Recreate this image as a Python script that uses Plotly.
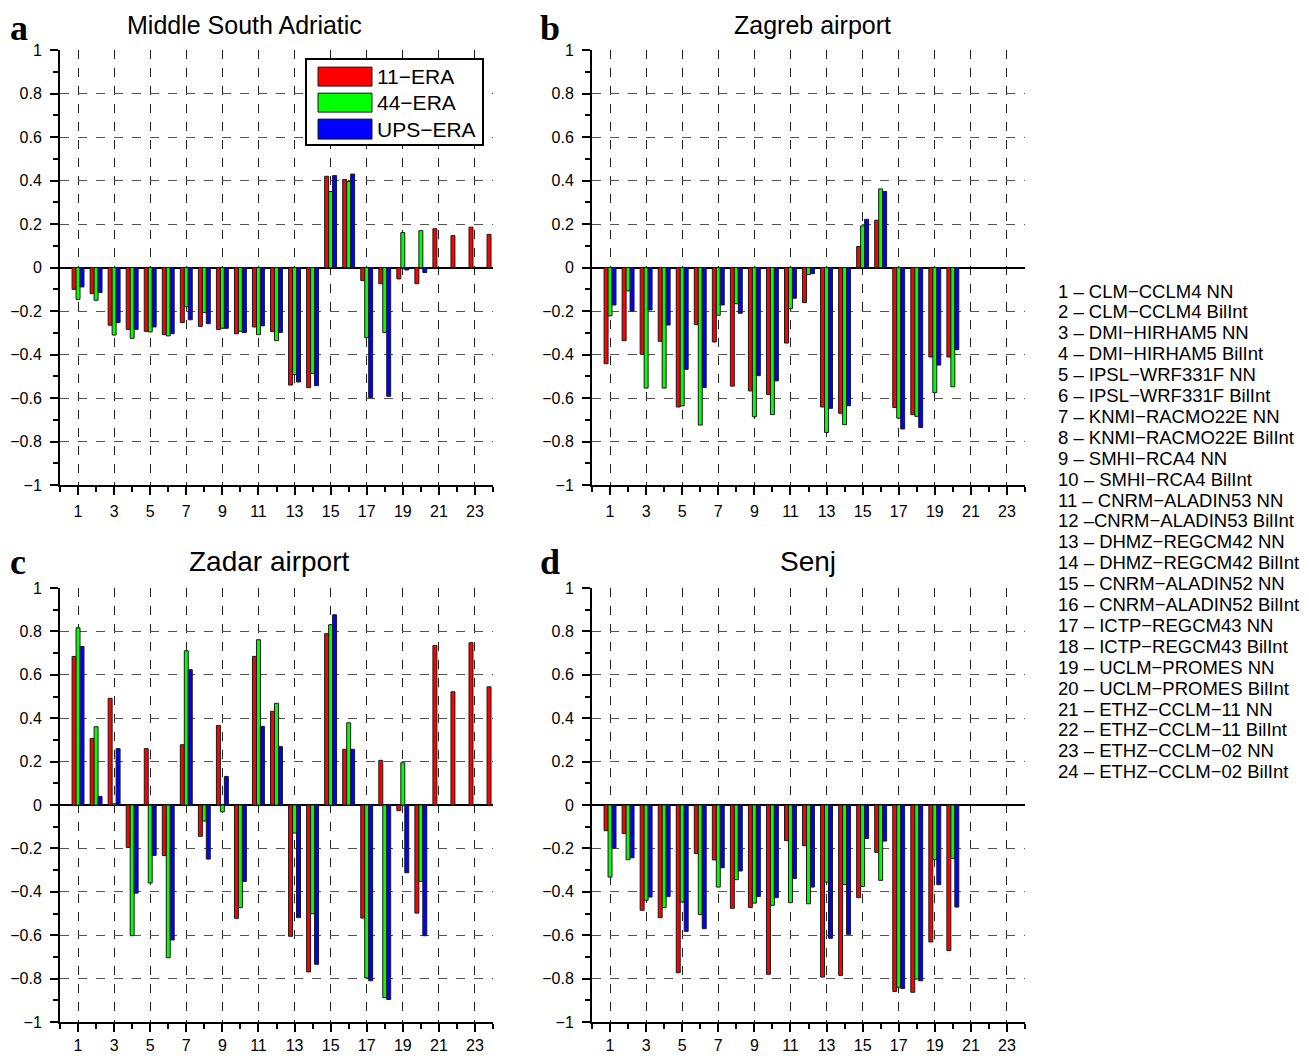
import plotly.graph_objects as go

W, H = 1309, 1056

models = list(range(1, 25))
model_names = [
    "1 – CLM−CCLM4 NN", "2 – CLM−CCLM4 BilInt", "3 – DMI−HIRHAM5 NN", "4 – DMI−HIRHAM5 BilInt",
    "5 – IPSL−WRF331F NN", "6 – IPSL−WRF331F BilInt", "7 – KNMI−RACMO22E NN", "8 – KNMI−RACMO22E BilInt",
    "9 – SMHI−RCA4 NN", "10 – SMHI−RCA4 BilInt", "11 – CNRM−ALADIN53 NN", "12 –CNRM−ALADIN53 BilInt",
    "13 – DHMZ−REGCM42 NN", "14 – DHMZ−REGCM42 BilInt", "15 – CNRM−ALADIN52 NN", "16 – CNRM−ALADIN52 BilInt",
    "17 – ICTP−REGCM43 NN", "18 – ICTP−REGCM43 BilInt", "19 – UCLM−PROMES NN", "20 – UCLM−PROMES BilInt",
    "21 – ETHZ−CCLM−11 NN", "22 – ETHZ−CCLM−11 BilInt", "23 – ETHZ−CCLM−02 NN", "24 – ETHZ−CCLM−02 BilInt",
]
series_names = ["11−ERA", "44−ERA", "UPS−ERA"]
series_colors = ["#ff0000", "#00ff00", "#0000ff"]
panel_titles = ["Middle South Adriatic", "Zagreb airport", "Zadar airport", "Senj"]
panel_letters = ["a", "b", "c", "d"]
NA = [None] * 4

a_11 = [-0.10, -0.12, -0.265, -0.284, -0.293, -0.308, -0.253, -0.27, -0.285, -0.304, -0.273, -0.294,
        -0.54, -0.552, 0.42, 0.405, -0.06, -0.074, -0.052, -0.074, 0.179, 0.147, 0.186, 0.153]
a_44 = [-0.146, -0.15, -0.31, -0.325, -0.296, -0.314, -0.18, -0.207, -0.279, -0.293, -0.308, -0.336,
        -0.492, -0.486, 0.35, 0.396, -0.322, -0.298, 0.161, 0.17] + NA
a_ups = [-0.089, -0.115, -0.253, -0.284, -0.273, -0.304, -0.24, -0.258, -0.279, -0.299, -0.268, -0.298,
         -0.526, -0.543, 0.423, 0.43, -0.598, -0.592, -0.011, -0.023] + NA

b_11 = [-0.442, -0.336, -0.399, -0.339, -0.641, -0.262, -0.342, -0.545, -0.567, -0.584, -0.347, -0.161,
        -0.641, -0.67, 0.097, 0.218, -0.643, -0.676, -0.411, -0.411] + NA
b_44 = [-0.222, -0.107, -0.554, -0.554, -0.636, -0.724, -0.219, -0.166, -0.686, -0.676, -0.189, -0.032,
        -0.758, -0.722, 0.192, 0.362, -0.692, -0.684, -0.575, -0.548] + NA
b_ups = [-0.172, -0.2, -0.195, -0.264, -0.468, -0.552, -0.172, -0.21, -0.497, -0.521, -0.141, -0.028,
         -0.647, -0.635, 0.222, 0.35, -0.742, -0.735, -0.448, -0.377] + NA

c_11 = [0.685, 0.307, 0.492, -0.195, 0.26, -0.233, 0.278, -0.144, 0.367, -0.522, 0.685, 0.432,
        -0.605, -0.769, 0.79, 0.257, -0.521, 0.206, -0.026, -0.498, 0.736, 0.522, 0.748, 0.545]
c_44 = [0.817, 0.361, 0.006, -0.602, -0.359, -0.704, 0.711, -0.074, -0.031, -0.473, 0.762, 0.469,
        -0.129, -0.501, 0.831, 0.379, -0.797, -0.888, 0.195, -0.352] + NA
c_ups = [0.731, 0.04, 0.26, -0.406, -0.232, -0.622, 0.624, -0.249, 0.132, -0.352, 0.363, 0.269,
         -0.519, -0.734, 0.877, 0.257, -0.81, -0.896, -0.312, -0.602] + NA

d_11 = [-0.118, -0.131, -0.485, -0.519, -0.773, -0.224, -0.253, -0.476, -0.472, -0.78, -0.164, -0.187,
        -0.793, -0.785, -0.427, -0.218, -0.859, -0.863, -0.631, -0.671] + NA
d_44 = [-0.332, -0.252, -0.439, -0.473, -0.447, -0.505, -0.378, -0.344, -0.452, -0.462, -0.45, -0.455,
        -0.355, -0.366, -0.375, -0.347, -0.84, -0.802, -0.252, -0.246] + NA
d_ups = [-0.198, -0.243, -0.424, -0.422, -0.582, -0.57, -0.289, -0.304, -0.422, -0.427, -0.339, -0.378,
         -0.614, -0.596, -0.154, -0.166, -0.845, -0.81, -0.367, -0.47] + NA

panels = [(a_11, a_44, a_ups), (b_11, b_44, b_ups), (c_11, c_44, c_ups), (d_11, d_44, d_ups)]

# target pixel geometry of plot areas (left, right, top, bottom)
boxes = [(60, 493, 50, 485), (592, 1025, 50, 485), (60, 493, 588, 1022), (592, 1025, 588, 1022)]
# title placement: (centre x, baseline y, font size)
title_pos = [(244, 35, 25), (812, 35, 25), (269, 572, 28), (808, 572, 28)]
letter_pos = [(10, 41), (540, 41), (10, 575), (540, 575)]

# the photographed page maps figure pixel d to picture pixel 7.87 + 0.984*d vertically
Y_OFF, Y_SCALE = 7.87, 0.984


def px(x):
    return x / W


def dy(y):
    """figure pixel giving picture pixel y"""
    return (y - Y_OFF) / Y_SCALE


def py(y):
    return 1 - dy(y) / H


fig = go.Figure()
FONT = "Liberation Sans, Arial, sans-serif"

for i, (vals, box) in enumerate(zip(panels, boxes)):
    sfx = "" if i == 0 else str(i + 1)
    for s in range(3):
        fig.add_trace(go.Bar(
            x=models, y=vals[s], name=series_names[s],
            marker=dict(color=series_colors[s], line=dict(color="#1a1a1a", width=1)),
            xaxis="x" + sfx, yaxis="y" + sfx, showlegend=False,
            hovertemplate=series_names[s] + " %{x}: %{y}<extra></extra>",
        ))
    l, r, t, b = box
    bottom_row = i >= 2
    fig.update_layout(**{
        "xaxis" + sfx: dict(
            domain=[px(l), px(r)], range=[0, 24], anchor="y" + sfx,
            tickvals=list(range(1, 24, 2)), ticks="outside", ticklen=8, tickwidth=1.5,
            tickcolor="black", showline=True, linecolor="black", linewidth=2,
            showgrid=True, gridcolor="#222222", griddash="dash", gridwidth=1,
            zeroline=False, ticklabelstandoff=0 if bottom_row else 3,
            tickfont=dict(family=FONT, size=16, color="black"),
            minor=dict(tickvals=list(range(0, 25)), ticks="outside", ticklen=5,
                       tickcolor="black", showgrid=False),
            fixedrange=True,
        ),
        "yaxis" + sfx: dict(
            domain=[py(b), py(t)], range=[-1, 1], anchor="x" + sfx,
            dtick=0.2, tick0=0, ticks="outside", ticklen=8, tickwidth=1.5, tickcolor="black",
            showline=True, linecolor="black", linewidth=2,
            showgrid=True, gridcolor="#555555", griddash="dash", gridwidth=1,
            zeroline=True, zerolinecolor="black", zerolinewidth=1.5,
            ticklabelstandoff=5,
            tickfont=dict(family=FONT, size=16, color="black"),
            minor=dict(dtick=0.1, ticks="outside", ticklen=5, tickcolor="black", showgrid=False),
            fixedrange=True,
        ),
    })

annotations = []
# panel titles and letters (placed by baseline)
for i in range(4):
    cx, base, fs = title_pos[i]
    annotations.append(dict(
        x=px(cx), y=1 - (dy(base) + 0.21 * fs + 1) / H, xref="paper", yref="paper",
        xanchor="center", yanchor="bottom", showarrow=False,
        text=panel_titles[i], font=dict(family=FONT, size=fs, color="black"),
    ))
    lx, lb = letter_pos[i]
    annotations.append(dict(
        x=px(lx - 2), y=1 - (dy(lb) + 0.216 * 36 + 1) / H, xref="paper", yref="paper",
        xanchor="left", yanchor="bottom", showarrow=False,
        text="<b>" + panel_letters[i] + "</b>",
        font=dict(family="Liberation Serif, Times New Roman, serif", size=36, color="black"),
    ))

# model list on the right
for k, name in enumerate(model_names):
    annotations.append(dict(
        x=px(1056), y=py(291 + k * 20.9), xref="paper", yref="paper",
        xanchor="left", yanchor="middle", showarrow=False,
        text=name, font=dict(family=FONT, size=18.5, color="black"),
    ))

# legend inside panel a
shapes = [dict(type="rect", xref="paper", yref="paper", x0=px(306), x1=px(483), y0=py(145), y1=py(59),
               fillcolor="white", line=dict(color="black", width=2), layer="above")]
sw_rows = [(67, 86), (93, 112), (119, 139)]
for s, (y0, y1) in enumerate(sw_rows):
    shapes.append(dict(type="rect", xref="paper", yref="paper", x0=px(318), x1=px(372),
                       y0=py(y1), y1=py(y0), fillcolor=series_colors[s],
                       line=dict(color="#1a1a1a", width=1), layer="above"))
    annotations.append(dict(
        x=px(375), y=py((y0 + y1) / 2), xref="paper", yref="paper",
        xanchor="left", yanchor="middle", showarrow=False,
        text=series_names[s], font=dict(family=FONT, size=21, color="black"),
    ))

fig.update_layout(
    width=W, height=H, margin=dict(l=0, r=0, t=0, b=0),
    paper_bgcolor="white", plot_bgcolor="white",
    barmode="group", bargap=0.34, bargroupgap=0,
    annotations=annotations, shapes=shapes,
    font=dict(family=FONT, color="black"),
)

page_fix = (
    "var st=document.createElement('style');"
    "st.innerHTML='html,body{margin:0;padding:0;overflow:hidden;width:1309px;height:1056px;}"
    ".plotly-graph-div{position:fixed;top:0;left:0;}';"
    "document.head.appendChild(st);"
)

fig.write_html("out.html", config={"displayModeBar": False}, post_script=page_fix)
